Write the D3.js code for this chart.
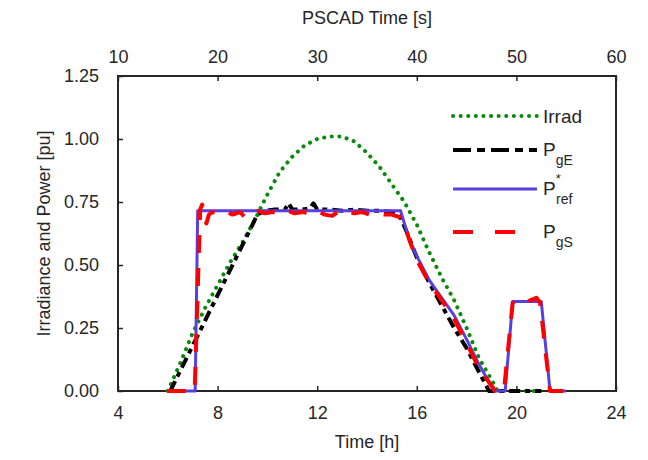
<!DOCTYPE html>
<html><head><meta charset="utf-8">
<script src="https://cdn.jsdelivr.net/npm/d3@7"></script>
<style>
body{margin:0;background:#fff;}
text{font-family:Arial,"Liberation Sans",sans-serif;fill:#262626;}
</style></head>
<body><svg id="c" width="648" height="460"></svg>
<script>
// ---- data (time in hours, values in pu) ----
const irradT = [6.0,6.5,7.0,7.5,8.0,8.5,9.0,9.5,10.0,10.5,11.0,11.5,12.0,12.5,13.0,13.5,14.0,14.5,15.0,15.5,16.0,16.5,17.0,17.5,18.0,18.5,19.0,19.25,20.0,21.0];
const irradV = [0,0.11,0.23,0.33,0.42,0.51,0.59,0.68,0.78,0.87,0.93,0.975,1.0,1.01,1.01,0.99,0.945,0.89,0.82,0.75,0.66,0.55,0.45,0.36,0.25,0.13,0.045,0,0,0];

const pgeT = [6.1,9.6,9.9,10.3,10.7,10.85,11.0,11.4,11.7,11.85,12.0,12.5,13.0,13.5,14.0,14.5,15.0,15.3,15.6,16.0,16.5,17.0,17.5,18.0,18.5,18.9,21.0];
const pgeV = [0,0.70,0.715,0.72,0.72,0.745,0.72,0.72,0.725,0.745,0.72,0.72,0.715,0.72,0.715,0.715,0.71,0.70,0.63,0.53,0.43,0.34,0.25,0.17,0.075,0,0];

const prefT = [6.0,7.1,7.2,15.35,15.7,16.0,16.5,17.0,17.5,18.0,18.5,19.1,19.55,19.85,21.0,21.35,22.0];
const prefV = [0,0,0.715,0.715,0.60,0.535,0.44,0.37,0.30,0.205,0.105,0,0,0.355,0.355,0,0];

const pgsT = [6.0,7.08,7.3,7.38,7.45,7.55,7.65,7.8,8.0,8.3,8.6,8.9,9.1,9.3,9.6,9.9,10.2,10.5,10.8,11.1,11.4,11.7,12.0,12.3,12.6,12.9,13.2,13.5,13.8,14.1,14.4,14.7,15.0,15.3,15.5,15.7,16.0,16.5,17.0,17.5,18.0,18.5,19.15,19.5,19.85,20.1,20.3,20.55,20.8,20.95,21.35,22.0];
const pgsV = [0,0,0.72,0.74,0.70,0.665,0.70,0.71,0.705,0.715,0.70,0.71,0.69,0.70,0.715,0.705,0.71,0.705,0.715,0.705,0.71,0.705,0.715,0.70,0.695,0.715,0.71,0.705,0.71,0.70,0.705,0.70,0.70,0.69,0.66,0.60,0.52,0.43,0.36,0.285,0.19,0.09,0,0,0.35,0.36,0.35,0.36,0.37,0.35,0,0];

const xTicksH = [4,8,12,16,20,24];
const xTicksS = [10,20,30,40,50,60];
const yTicks = [0,0.25,0.5,0.75,1.0,1.25];

// ---- layout ----
const L=118, R=616, T=76, B=391;
const svg = d3.select("#c");
const x = d3.scaleLinear().domain([4,24]).range([L,R]);
const xs = d3.scaleLinear().domain([10,60]).range([L,R]);
const y = d3.scaleLinear().domain([0,1.25]).range([B,T]);
const axCol = "#262626";

function styleAxis(g){
  g.select(".domain").remove();
  g.selectAll("line").attr("stroke",axCol).attr("stroke-width",1.5);
  g.selectAll("text").attr("font-size",18).attr("fill",axCol).style("font-family","Arial, 'Liberation Sans', sans-serif");
}
svg.append("g").attr("transform",`translate(0,${B})`)
  .call(d3.axisBottom(x).tickValues(xTicksH).tickFormat(d3.format("d")).tickSizeInner(-5).tickSizeOuter(0).tickPadding(15))
  .call(styleAxis);
svg.append("g").attr("transform",`translate(0,${T})`)
  .call(d3.axisTop(xs).tickValues(xTicksS).tickFormat(d3.format("d")).tickSizeInner(-5).tickSizeOuter(0).tickPadding(13))
  .call(styleAxis);
svg.append("g").attr("transform",`translate(${L},0)`)
  .call(d3.axisLeft(y).tickValues(yTicks).tickFormat(d3.format(".2f")).tickSizeInner(-5).tickSizeOuter(0).tickPadding(19))
  .call(styleAxis);

// frame
svg.append("rect").attr("x",L).attr("y",T).attr("width",R-L).attr("height",B-T)
  .attr("fill","none").attr("stroke",axCol).attr("stroke-width",2);

// axis titles
svg.append("text").attr("x",(L+R)/2).attr("y",448).attr("text-anchor","middle").attr("font-size",18).text("Time [h]");
svg.append("text").attr("x",(L+R)/2).attr("y",24).attr("text-anchor","middle").attr("font-size",18).text("PSCAD Time [s]");
svg.append("text").attr("transform",`translate(50,${(T+B)/2}) rotate(-90)`).attr("text-anchor","middle").attr("font-size",18).text("Irradiance and Power [pu]");

// series
const series = [
  {t:irradT, v:irradV, color:"#0a8a0a", w:4, dash:"0.1 7.5", cap:"round"},
  {t:pgeT, v:pgeV, color:"#000000", w:4, dash:"11 5 5 5", cap:"butt"},
  {t:prefT, v:prefV, color:"#5a3ee0", w:3, dash:null, cap:"butt"},
  {t:pgsT, v:pgsV, color:"#ff0000", w:4, dash:"18 15", cap:"butt"}
];
const line = d3.line().x(d=>x(d[0])).y(d=>y(d[1]));
const plot = svg.append("g");
series.forEach(s=>{
  const pts = s.t.map((t,i)=>[t,s.v[i]]);
  plot.append("path").attr("d",line(pts)).attr("fill","none")
    .attr("stroke",s.color).attr("stroke-width",s.w)
    .attr("stroke-dasharray",s.dash).attr("stroke-linecap",s.cap).attr("stroke-linejoin","round");
});

// legend
const legY = [116,150,189,232];
const lx0=453, lx1=537, tx=543;
series.forEach((s,i)=>{
  svg.append("path").attr("d",`M${lx0},${legY[i]}H${lx1}`).attr("fill","none")
    .attr("stroke",s.color).attr("stroke-width",s.w)
    .attr("stroke-dasharray",i===1?"18 6 8 6":(i===3?"20 22":s.dash)).attr("stroke-linecap",s.cap);
});
svg.append("text").attr("x",tx).attr("y",legY[0]+7).attr("font-size",19).text("Irrad");
function pLabel(i,sub,sup){
  const t = svg.append("text").attr("x",tx).attr("y",legY[i]+6).attr("font-size",19);
  t.append("tspan").text("P");
  if(sup){
    t.append("tspan").attr("font-size",13).attr("dy",-12).text(sup);
    t.append("tspan").attr("font-size",14).attr("x",tx+13).attr("dy",21).text(sub);
  } else {
    t.append("tspan").attr("font-size",14).attr("dy",9).text(sub);
  }
}
pLabel(1,"gE");
pLabel(2,"ref","*");
pLabel(3,"gS");
</script></body></html>
